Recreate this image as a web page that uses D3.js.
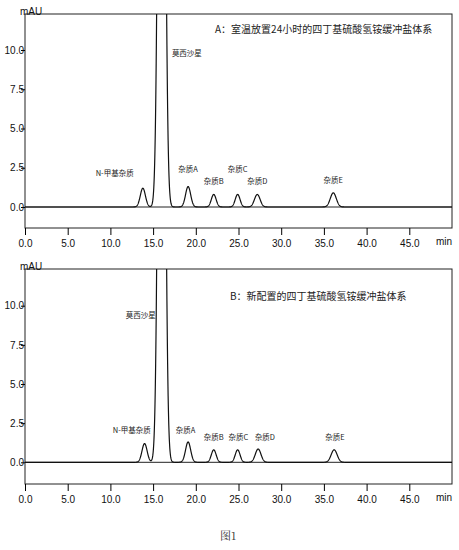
<!DOCTYPE html><html><head><meta charset="utf-8">
<script src="https://d3js.org/d3.v7.min.js"></script>
<style>body{margin:0;background:#fff}text{font-family:"Liberation Sans",Arial,sans-serif}</style></head><body>
<script>
// peak tables: retention time (min), height (mAU), width sigma (min)
const peakNames = ["N-甲基杂质","莫西沙星","杂质A","杂质B","杂质C","杂质D","杂质E"];
const peaksA_t = [13.8,16.0,19.1,22.1,24.9,27.2,36.1];
const peaksA_h = [1.2,60,1.3,0.8,0.8,0.8,0.9];
const peaksB_t = [14.0,16.0,19.1,22.1,24.9,27.3,36.2];
const peaksB_h = [1.2,60,1.3,0.8,0.8,0.85,0.8];
const peakSigma = [0.3,0.33,0.3,0.28,0.28,0.33,0.35];
const labelsA = [[10.5,2.0,"middle"],[17.2,9.6,"start"],[19.1,2.2,"middle"],[22.1,1.45,"middle"],[24.9,2.2,"middle"],[27.2,1.45,"middle"],[36.1,1.5,"middle"]];
const labelsB = [[12.5,1.85,"middle"],[15.3,9.2,"end"],[18.8,1.85,"middle"],[22.1,1.45,"middle"],[25.0,1.45,"middle"],[28.1,1.45,"middle"],[36.3,1.45,"middle"]];
const xTicks = [0,5,10,15,20,25,30,35,40,45];
const yTicks = [0,2.5,5,7.5,10];
const titles = ["A：室温放置24小时的四丁基硫酸氢铵缓冲盐体系","B：新配置的四丁基硫酸氢铵缓冲盐体系"];

const svg = d3.select("body").append("svg").attr("width",459).attr("height",550);
function panel(top, bottom, y0px, y10px, pt, ph, labels, title, tx, ty){
  const x = d3.scaleLinear().domain([0,50]).range([25,452]);
  const per = (y0px-y10px)/10;
  const y = d3.scaleLinear().domain([0,10]).range([y0px,y10px]);
  const yTop = y.invert(top), yBot = y.invert(bottom);
  const g = svg.append("g");
  g.append("rect").attr("x",25).attr("y",top).attr("width",427).attr("height",bottom-top).attr("fill","none").attr("stroke","#222").attr("stroke-width",1);
  const clipId="c"+top;
  svg.append("clipPath").attr("id",clipId).append("rect").attr("x",25).attr("y",top).attr("width",427).attr("height",bottom-top);
  // x axis
  const xa = g.append("g").attr("transform",`translate(0,${bottom})`);
  xa.call(d3.axisBottom(x).tickValues(d3.range(0,51,1)).tickSize(5).tickFormat(""));
  xa.call(d3.axisBottom(x).tickValues(xTicks).tickSize(7).tickFormat(d3.format(".1f")));
  xa.selectAll("text").attr("font-size",10).attr("dy","0.9em").attr("fill","#111");
  xa.selectAll("path").remove();
  xa.append("text").attr("x",452).attr("y",17).attr("text-anchor","end").attr("font-size",10).attr("fill","#111").text("min");
  // y axis
  const ya = g.append("g").attr("transform","translate(25,0)");
  ya.call(d3.axisLeft(y).tickValues(d3.range(-1,12.5,0.5)).tickSize(3).tickFormat(""));
  ya.call(d3.axisLeft(y).tickValues(yTicks).tickSize(4).tickFormat(d3.format(".1f")));
  ya.selectAll("path").remove();
  ya.selectAll(".tick").filter(d=>y(d)<top||y(d)>bottom).remove();
  ya.selectAll("text").attr("font-size",10).attr("x",-1).attr("fill","#111");
  g.append("text").attr("x",20).attr("y",top+1).attr("font-size",10).attr("fill","#111").text("mAU");
  // baseline
  g.append("line").attr("x1",25).attr("x2",452).attr("y1",y(0)).attr("y2",y(0)).attr("stroke","#222");
  // trace from peak table
  const ts = d3.range(0,50.001,0.02);
  const sig = ts.map(t=>[t, d3.sum(pt,(c,i)=>ph[i]*Math.exp(-0.5*((t-c)/peakSigma[i])**2))]);
  g.append("path").datum(sig).attr("clip-path",`url(#${clipId})`).attr("fill","none").attr("stroke","#111").attr("stroke-width",1.2)
    .attr("d",d3.line().x(d=>x(d[0])).y(d=>y(d[1])));
  labels.forEach((l,i)=>g.append("text").attr("x",x(l[0])).attr("y",y(l[1])).attr("text-anchor",l[2])
    .attr("font-family","Noto Sans CJK SC").style("font-family","'Noto Sans CJK SC'").attr("font-size",7.5).attr("fill","#222").text(peakNames[i]));
  g.append("text").attr("x",tx).attr("y",ty).style("font-family","'Noto Sans CJK SC'").attr("font-size",10).attr("fill","#222").text(title);
}
panel(14,228,207,50,peaksA_t,peaksA_h,labelsA,titles[0],215,33);
panel(269,484,462.3,305.7,peaksB_t,peaksB_h,labelsB,titles[1],230,300);
svg.append("text").attr("x",228).attr("y",540).attr("text-anchor","middle").style("font-family","'Noto Serif CJK SC','Noto Sans CJK SC'").attr("font-size",11).attr("fill","#333").text("图1");
</script></body></html>
